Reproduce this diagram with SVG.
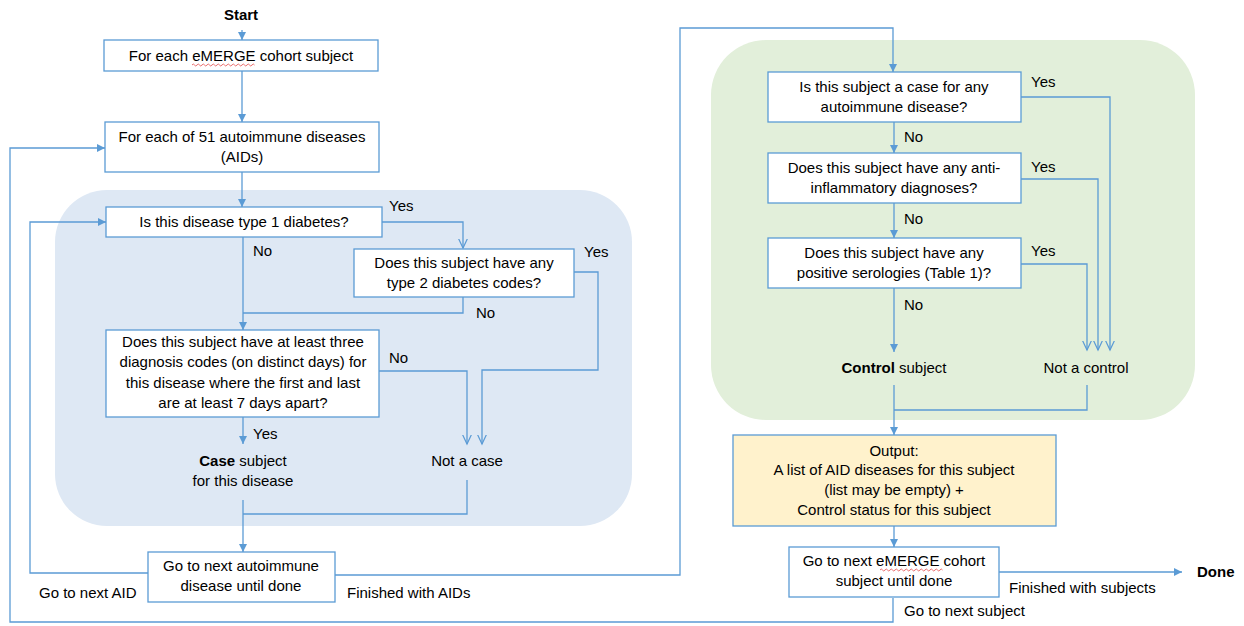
<svg xmlns="http://www.w3.org/2000/svg" width="1244" height="626" viewBox="0 0 1244 626">
<defs>
<marker id="af" markerUnits="userSpaceOnUse" markerWidth="9" markerHeight="9" refX="8" refY="4.5" orient="auto"><path d="M0,0.5 L8,4.5 L0,8.5 z" fill="#5b9bd5"/></marker>
<marker id="ao" markerUnits="userSpaceOnUse" markerWidth="11" markerHeight="11" refX="9.5" refY="5" orient="auto"><path d="M0,0.5 L9.5,5 L0,9.5" fill="none" stroke="#5b9bd5" stroke-width="1.2"/></marker>
</defs>
<style>
text{font-family:"Liberation Sans",Arial,sans-serif;font-size:15px;fill:#000}
.c{text-anchor:middle}
.b{font-weight:bold}
.box{fill:#fff;stroke:#5b9bd5;stroke-width:1.3}
.ln{fill:none;stroke:#5b9bd5;stroke-width:1.3}
.f{marker-end:url(#af)}
.o{marker-end:url(#ao)}
.sq{fill:none;stroke:#e03030;stroke-width:0.7}
</style>
<rect width="1244" height="626" fill="#fff"/>
<rect id="region-case" x="55" y="190" width="577" height="336" rx="52" fill="#dee8f4"/>
<rect id="region-control" x="711" y="40" width="484" height="380" rx="55" fill="#e2efda"/>

<g id="connectors">
<path class="ln f" d="M242,30 V40"/>
<path class="ln f" d="M242,71 V122"/>
<path class="ln f" d="M242,172 V207"/>
<path class="ln o" d="M382,222 H463 V248"/>
<path class="ln f" d="M243,237 V330"/>
<path class="ln" d="M463,297 V313 H243"/>
<path class="ln o" d="M574,272 H598 V370 H482 V444"/>
<path class="ln o" d="M379,371 H467 V444"/>
<path class="ln f" d="M243,417 V444"/>
<path class="ln f" d="M243,500 V552"/>
<path class="ln" d="M467,480 V514 H243"/>
<path class="ln f" d="M148,573 H30 V222 H106"/>
<path class="ln f" d="M893,598 V622 H10 V148 H105"/>
<path class="ln f" d="M335,575 H680 V28 H893 V72"/>
<path class="ln o" d="M1021,97 H1110 V350"/>
<path class="ln o" d="M1021,179 H1098 V350"/>
<path class="ln o" d="M1021,264 H1087 V350"/>
<path class="ln f" d="M894,122 V153"/>
<path class="ln f" d="M894,203 V238"/>
<path class="ln f" d="M894,288 V352"/>
<path class="ln f" d="M894,385 V435"/>
<path class="ln" d="M1087,385 V410 H894"/>
<path class="ln f" d="M894,526 V547"/>
<path class="ln f" d="M999,572 H1182"/>
</g>

<text class="c b" x="241" y="20">Start</text>

<g id="n-each-subject">
<rect class="box" x="104" y="40" width="274" height="31"/>
<text class="c" x="241" y="61">For each eMERGE cohort subject</text>
<path class="sq" d="M192,65 q1.25,-2 2.5,0 t2.5,0 t2.5,0 t2.5,0 t2.5,0 t2.5,0 t2.5,0 t2.5,0 t2.5,0 t2.5,0 t2.5,0 t2.5,0 t2.5,0 t2.5,0 t2.5,0 t2.5,0 t2.5,0 t2.5,0 t2.5,0 t2.5,0 t2.5,0 t2.5,0 t2.5,0 t2.5,0 t2.5,0"/>
</g>

<g id="n-each-aid">
<rect class="box" x="105" y="122" width="274" height="50"/>
<text class="c" x="242" y="142">For each of 51 autoimmune diseases</text>
<text class="c" x="242" y="162">(AIDs)</text>
</g>

<g id="n-q1">
<rect class="box" x="106" y="207" width="276" height="30"/>
<text class="c" x="244" y="227">Is this disease type 1 diabetes?</text>
</g>
<text x="389" y="211">Yes</text>
<text x="253" y="256">No</text>

<g id="n-q2">
<rect class="box" x="354" y="249" width="220" height="48"/>
<text class="c" x="464" y="268">Does this subject have any</text>
<text class="c" x="464" y="288">type 2 diabetes codes?</text>
</g>
<text x="584" y="257">Yes</text>
<text x="476" y="318">No</text>

<g id="n-q3">
<rect class="box" x="106" y="330" width="273" height="87"/>
<text class="c" x="243" y="347">Does this subject have at least three</text>
<text class="c" x="243" y="367">diagnosis codes (on distinct days) for</text>
<text class="c" x="243" y="388">this disease where the first and last</text>
<text class="c" x="243" y="408">are at least 7 days apart?</text>
</g>
<text x="389" y="363">No</text>
<text x="253" y="439">Yes</text>

<g id="n-case">
<text class="c" x="243" y="466"><tspan class="b">Case</tspan> subject</text>
<text class="c" x="243" y="486">for this disease</text>
</g>
<g id="n-notcase">
<text class="c" x="467" y="466">Not a case</text>
</g>

<g id="n-next-aid">
<rect class="box" x="148" y="552" width="187" height="50"/>
<text class="c" x="241" y="571">Go to next autoimmune</text>
<text class="c" x="241" y="591">disease until done</text>
</g>
<text x="39" y="598">Go to next AID</text>
<text x="347" y="598">Finished with AIDs</text>

<g id="n-q4">
<rect class="box" x="768" y="72" width="253" height="50"/>
<text class="c" x="894" y="92">Is this subject a case for any</text>
<text class="c" x="894" y="112">autoimmune disease?</text>
</g>
<text x="1031" y="87">Yes</text>
<text x="904" y="142">No</text>

<g id="n-q5">
<rect class="box" x="768" y="153" width="253" height="50"/>
<text class="c" x="894" y="173">Does this subject have any anti-</text>
<text class="c" x="894" y="193">inflammatory diagnoses?</text>
</g>
<text x="1031" y="172">Yes</text>
<text x="904" y="224">No</text>

<g id="n-q6">
<rect class="box" x="768" y="238" width="253" height="50"/>
<text class="c" x="894" y="258">Does this subject have any</text>
<text class="c" x="894" y="278">positive serologies (Table 1)?</text>
</g>
<text x="1031" y="256">Yes</text>
<text x="904" y="310">No</text>

<g id="n-control">
<text class="c" x="894" y="373"><tspan class="b">Control</tspan> subject</text>
</g>
<g id="n-notcontrol">
<text class="c" x="1086" y="373">Not a control</text>
</g>

<g id="n-output">
<rect x="733" y="435" width="323" height="91" fill="#fff2cc" stroke="#5b9bd5" stroke-width="1.3"/>
<text class="c" x="894" y="456">Output:</text>
<text class="c" x="894" y="475">A list of AID diseases for this subject</text>
<text class="c" x="894" y="495">(list may be empty) +</text>
<text class="c" x="894" y="515">Control status for this subject</text>
</g>

<g id="n-next-subject">
<rect class="box" x="789" y="547" width="210" height="50"/>
<text class="c" x="894" y="566">Go to next eMERGE cohort</text>
<text class="c" x="894" y="586">subject until done</text>
<path class="sq" d="M880,570 q1.25,-2 2.5,0 t2.5,0 t2.5,0 t2.5,0 t2.5,0 t2.5,0 t2.5,0 t2.5,0 t2.5,0 t2.5,0 t2.5,0 t2.5,0 t2.5,0 t2.5,0 t2.5,0 t2.5,0 t2.5,0 t2.5,0 t2.5,0 t2.5,0 t2.5,0 t2.5,0 t2.5,0 t2.5,0 t2.5,0"/>
</g>
<text x="1009" y="593">Finished with subjects</text>
<text x="904" y="616">Go to next subject</text>
<g id="n-done"><text class="b" x="1197" y="577">Done</text></g>
</svg>
